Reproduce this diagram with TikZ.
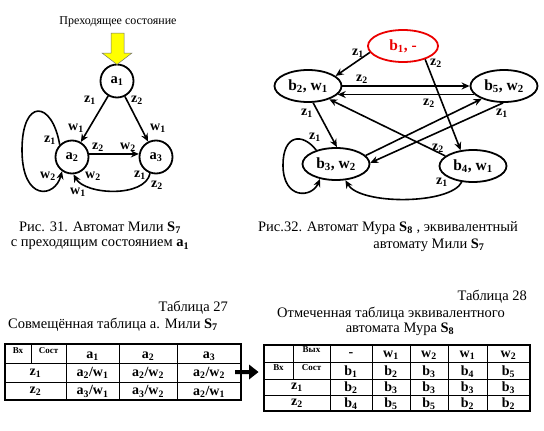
\documentclass[tikz,border=0pt]{standalone}
\usepackage{fontspec}
\setmainfont{Liberation Serif}
\usetikzlibrary{shapes.geometric,arrows.meta}
\newcommand\sbs[1]{\textsubscript{#1}}
\definecolor{flagyellow}{RGB}{255,255,0}
\definecolor{stateRed}{RGB}{235,0,0}
\begin{document}
\begin{tikzpicture}[x=1pt,y=-1pt,
  lbl/.style={font=\fontsize{14}{14}\selectfont\bfseries, inner sep=0pt},
  smalltxt/.style={font=\fontsize{9}{9}\selectfont\bfseries, inner sep=0pt},
  captxt/.style={font=\fontsize{14.5}{16}\selectfont, inner sep=0pt},
  notetxt/.style={font=\fontsize{12}{13}\selectfont, inner sep=0pt},
  cstate/.style={circle, draw, line width=1.8pt, minimum size=33pt, inner sep=0pt, font=\fontsize{14.5}{14}\selectfont\bfseries},
  estate/.style={ellipse, draw, line width=1.8pt, minimum width=67pt, minimum height=32pt, inner sep=0pt, font=\fontsize{15.5}{15}\selectfont\bfseries},
  arr/.style={-{Stealth[length=8pt,width=7pt]}, line width=1.6pt},
  gridthin/.style={line width=0.9pt},
  gridthick/.style={line width=2.2pt}]
\useasboundingbox (0,0) rectangle (544,431);

% ---------- Figure 31 ----------
\node[notetxt] (trans) at (118,22) {Преходящее состояние};
\node[cstate] (a1) at (117,81) {a\sbs{1}};
\node[cstate] (a2) at (72,157) {a\sbs{2}};
\node[cstate] (a3) at (156,157) {a\sbs{3}};
\filldraw[fill=flagyellow, draw=black!55, line width=0.5pt]
  (111,33) -- (124,33) -- (124,53) -- (132,53) -- (117,64.5) -- (102,53) -- (111,53) -- cycle;

\draw[arr] (a1) -- (a2);
\draw[arr] (a1) -- (a3);
\draw[arr] (a2.10) -- (a3.170);
\draw[arr] (a3.-110) .. controls (145,198) and (85,195) .. (a2.-85);
\draw[arr] (a2.135) .. controls (52,100) and (22,98) .. (22,150) .. controls (22,202) and (55,198) .. (a2.-125);

\node[lbl] (l1) at (90,100) {z\sbs{1}};
\node[lbl] (l2) at (137,100) {z\sbs{2}};
\node[lbl] (l3) at (76,128) {w\sbs{1}};
\node[lbl] (l4) at (158,128) {w\sbs{1}};
\node[lbl] (l5) at (50,140) {z\sbs{1}};
\node[lbl] (l6) at (98,147) {z\sbs{2}};
\node[lbl] (l7) at (128,147) {w\sbs{2}};
\node[lbl] (l8) at (48,176) {w\sbs{2}};
\node[lbl] (l9) at (93,176) {w\sbs{2}};
\node[lbl] (l10) at (78,192) {w\sbs{1}};
\node[lbl] (l11) at (140,175) {z\sbs{1}};
\node[lbl] (l12) at (157,185) {z\sbs{2}};

\node[captxt] (c31a) at (100,228) {Рис. 31. Автомат Мили \textbf{S\sbs{7}}};
\node[captxt] (c31b) at (100,245) {с преходящим состоянием \textbf{a\sbs{1}}};

% ---------- Figure 32 ----------
\node[estate, draw=stateRed, text=stateRed, minimum width=70pt] (b1) at (403,46) {b\sbs{1}, -};
\node[estate] (b2) at (308,86) {b\sbs{2}, w\sbs{1}};
\node[estate] (b5) at (504,86) {b\sbs{5}, w\sbs{2}};
\node[estate] (b3) at (336,164) {b\sbs{3}, w\sbs{2}};
\node[estate] (b4) at (473,166) {b\sbs{4}, w\sbs{1}};

\draw[arr] (b1.191) -- (b2.20);
\draw[arr] (b1.-31) -- (b4.128);
\draw[arr] (b2.east) -- (b5.west);
\draw[arr] (b5.196) -- (b2.-16);
\draw[arr] (b4.160) -- (b2.-32);
\draw[arr] (b2.-73) -- (b3.87);
\draw[arr] (b3.16) -- (b5.210);
\draw[arr] (b5.-93) -- (b3.2);
\draw[arr] (b3.145) .. controls (302,132) and (283,135) .. (283,165) .. controls (283,200) and (312,198) .. (b3.-137);
\draw[arr] (b4.-125) .. controls (450,205) and (360,205) .. (b3.-60);

\node[lbl] (m1) at (358,53) {z\sbs{1}};
\node[lbl] (m2) at (436,63) {z\sbs{2}};
\node[lbl] (m3) at (362,79) {z\sbs{2}};
\node[lbl] (m4) at (429,103) {z\sbs{2}};
\node[lbl] (m5) at (307,113) {z\sbs{1}};
\node[lbl] (m6) at (502,113) {z\sbs{1}};
\node[lbl] (m7) at (315,137) {z\sbs{1}};
\node[lbl] (m8) at (438,148) {z\sbs{2}};
\node[lbl] (m9) at (442,182) {z\sbs{1}};

\node[captxt] (c32a) at (388,228) {Рис.32. Автомат Мура \textbf{S\sbs{8}} , эквивалентный};
\node[captxt] (c32b) at (429,245) {автомату Мили \textbf{S\sbs{7}}};

% ---------- Table 27 ----------
\node[captxt, anchor=east] (t27) at (228,308) {Таблица 27};
\node[captxt] (t27b) at (113,325) {Совмещённая таблица а. Мили \textbf{S\sbs{7}}};
\draw[gridthin] (5,363) -- (241,363);
\draw[gridthin] (5,382) -- (241,382);
\draw[gridthin] (31,344) -- (31,363);
\foreach \x in {66,119,177} \draw[gridthin] (\x,344) -- (\x,400);
\draw[gridthick] (5,344) rectangle (241,400);
\node[smalltxt] (h1) at (18,351) {Вх};
\node[smalltxt] (h2) at (48.5,351) {Сост};
\node[lbl] at (92.5,356) {a\sbs{1}};
\node[lbl] at (148,356) {a\sbs{2}};
\node[lbl] at (209,356) {a\sbs{3}};
\node[lbl] at (35.5,373) {z\sbs{1}};
\node[lbl] at (92.5,373) {a\sbs{2}/w\sbs{1}};
\node[lbl] at (148,373) {a\sbs{2}/w\sbs{2}};
\node[lbl] at (209,373) {a\sbs{2}/w\sbs{2}};
\node[lbl] at (35.5,391.5) {z\sbs{2}};
\node[lbl] at (92.5,391.5) {a\sbs{3}/w\sbs{1}};
\node[lbl] at (148,391.5) {a\sbs{3}/w\sbs{2}};
\node[lbl] at (209,391.5) {a\sbs{2}/w\sbs{1}};

% arrow between tables
\fill (235,370) -- (249,370) -- (249,364.5) -- (258.5,372) -- (249,379.5) -- (249,374) -- (235,374) -- cycle;

% ---------- Table 28 ----------
\node[captxt, anchor=east] (t28) at (527,297) {Таблица 28};
\node[captxt] (t28b) at (391,314) {Отмеченная таблица эквивалентного};
\node[captxt] (t28c) at (400,329) {автомата Мура \textbf{S\sbs{8}}};
\foreach \y in {362,379,395} \draw[gridthin] (264,\y) -- (530,\y);
\draw[gridthin] (293,345) -- (293,379);
\foreach \x in {330,372,410,448,487} \draw[gridthin] (\x,345) -- (\x,411);
\draw[gridthick] (264,345) rectangle (530,411);
\node[smalltxt] at (311.5,350) {Вых};
\node[smalltxt] at (278.5,368) {Вх};
\node[smalltxt] at (311.5,368) {Сост};
\node[lbl] at (351,355) {-};
\node[lbl] at (391,355) {w\sbs{1}};
\node[lbl] at (429,355) {w\sbs{2}};
\node[lbl] at (467.5,355) {w\sbs{1}};
\node[lbl] at (508.5,355) {w\sbs{2}};
\node[lbl] at (351,372) {b\sbs{1}};
\node[lbl] at (391,372) {b\sbs{2}};
\node[lbl] at (429,372) {b\sbs{3}};
\node[lbl] at (467.5,372) {b\sbs{4}};
\node[lbl] at (508.5,372) {b\sbs{5}};
\node[lbl] at (297,387.5) {z\sbs{1}};
\node[lbl] at (351,387.5) {b\sbs{2}};
\node[lbl] at (391,387.5) {b\sbs{3}};
\node[lbl] at (429,387.5) {b\sbs{3}};
\node[lbl] at (467.5,387.5) {b\sbs{3}};
\node[lbl] at (508.5,387.5) {b\sbs{3}};
\node[lbl] at (297,403.5) {z\sbs{2}};
\node[lbl] at (351,403.5) {b\sbs{4}};
\node[lbl] at (391,403.5) {b\sbs{5}};
\node[lbl] at (429,403.5) {b\sbs{5}};
\node[lbl] at (467.5,403.5) {b\sbs{2}};
\node[lbl] at (508.5,403.5) {b\sbs{2}};
\end{tikzpicture}
\end{document}
